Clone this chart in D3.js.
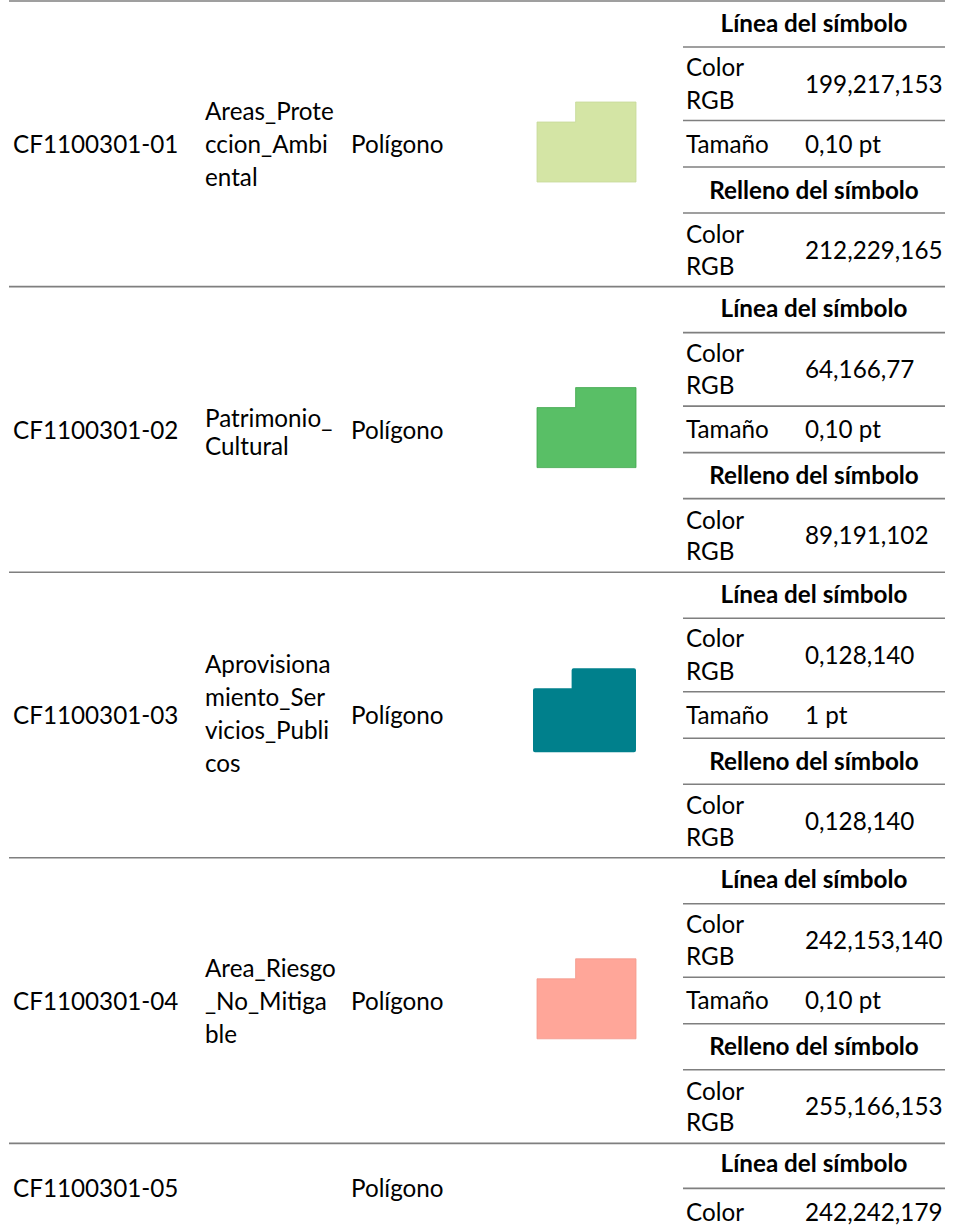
<!DOCTYPE html>
<html>
<head>
<meta charset="utf-8">
<script src="https://cdn.jsdelivr.net/npm/d3@7"></script>
<style>
  html, body { margin: 0; padding: 0; background: #fff; }
  svg { display: block; }
</style>
</head>
<body>
<div id="chart"></div>
<script>
// ---- data ----
const codes = ["CF1100301-01", "CF1100301-02", "CF1100301-03", "CF1100301-04", "CF1100301-05"];
const names = [
  ["Areas_Prote", "ccion_Ambi", "ental"],
  ["Patrimonio_", "Cultural"],
  ["Aprovisiona", "miento_Ser", "vicios_Publi", "cos"],
  ["Area_Riesgo", "_No_Mitiga", "ble"],
  []
];
const geometries = ["Polígono", "Polígono", "Polígono", "Polígono", "Polígono"];
const lineRGB = [[199, 217, 153], [64, 166, 77], [0, 128, 140], [242, 153, 140], [242, 242, 179]];
const lineSize = ["0,10 pt", "0,10 pt", "1 pt", "0,10 pt", null];
const fillRGB = [[212, 229, 165], [89, 191, 102], [0, 128, 140], [255, 166, 153], null];
const sizePt = [0.10, 0.10, 1, 0.10, null];
const headers = ["Línea del símbolo", "Relleno del símbolo"];
const colorLabel = ["Color", "RGB"];
const sizeLabel = "Tamaño";

// ---- layout ----
const W = 954, H = 1226;
const svg = d3.select("#chart").append("svg").attr("width", W).attr("height", H);
const fam = "Lato, 'Open Sans', sans-serif";

// calibrate font size against widths measured in the reference
const calib = [[codes[0], 154, false], [geometries[0], 92, false], [names[0][0], 132, false],
               ["199,217,153", 134, false], [sizeLabel, 87, false], [headers[0], 192, true]];
const ratios = calib.map(([s, target, bold]) => {
  const p = svg.append("text").style("font-family", fam).style("font-size", "100px")
    .style("font-weight", bold ? "bold" : "normal").text(s);
  const r = target / p.node().getComputedTextLength();
  p.remove();
  return r;
});
const fs = 100 * d3.mean(ratios);

const rowY = d3.scaleLinear().domain([0, 1]).range([1, 286.6]); // section index -> top y
const lineCol = "#7f7f7f";
const X = { code: 13, name: 205, geom: 351, sub0: 683, sub1: 945, lab: 686, val: 805, mid: 814, left: 9 };
const fmt = c => c.join(",");

// symbol unit shape
const sx = d3.scaleLinear().domain([0, 1]).range([537, 636]);
const sy = d3.scaleLinear().domain([0, 1]).range([101, 181]);
const shape = [[0, 0.25], [0.39, 0.25], [0.39, 0], [1, 0], [1, 1], [0, 1]];
const lineGen = d3.line().x(d => sx(d[0])).y(d => sy(d[1])).curve(d3.curveLinearClosed);

const g = svg.append("g").style("font-family", fam).style("font-size", fs + "px").attr("fill", "#000");

function text(parent, x, y, s, opts = {}) {
  const t = parent.append("text").attr("x", x).attr("y", y).text(s);
  if (opts.bold) t.style("font-weight", "bold");
  if (opts.anchor) t.attr("text-anchor", opts.anchor);
  return t;
}
function hline(parent, x0, x1, y) {
  parent.append("line").attr("x1", x0).attr("x2", x1).attr("y1", y).attr("y2", y)
    .attr("stroke", lineCol).attr("stroke-width", 1.6);
}

codes.forEach((code, i) => {
  const top = rowY(i);
  const sec = g.append("g").attr("transform", `translate(0,${top})`);
  hline(sec, X.left, X.sub1, 0);
  const full = fillRGB[i] !== null;
  if (full) {
    text(sec, X.code, 152, code);
    const n = names[i].length;
    const gap = n === 2 ? 28 : 33;
    const c = n === 2 ? 154 : (n === 4 ? 150.5 : 152);
    names[i].forEach((s, k) => text(sec, X.name, c + (k - (n - 1) / 2) * gap, s));
    text(sec, X.geom, 152, geometries[i]);

    // symbol
    const thick = sizePt[i] >= 1;
    sec.append("path").attr("d", lineGen(shape))
      .attr("fill", d3.rgb(...fillRGB[i]))
      .attr("stroke", d3.rgb(...lineRGB[i]))
      .attr("stroke-width", thick ? 4 : 0.8)
      .attr("stroke-linejoin", thick ? "round" : "miter")
      .attr("transform", thick ? "translate(-2,-3)" : null);

    // sub-table
    text(sec, X.mid, 30.5, headers[0], { bold: true, anchor: "middle" });
    hline(sec, X.sub0, X.sub1, 46);
    text(sec, X.lab, 75, colorLabel[0]);
    text(sec, X.lab, 107.5, colorLabel[1]);
    text(sec, X.val, 91.5, fmt(lineRGB[i]));
    hline(sec, X.sub0, X.sub1, 119.5);
    text(sec, X.lab, 151.5, sizeLabel);
    text(sec, X.val, 151.5, lineSize[i]);
    hline(sec, X.sub0, X.sub1, 166);
    text(sec, X.mid, 197.5, headers[1], { bold: true, anchor: "middle" });
    hline(sec, X.sub0, X.sub1, 212);
    text(sec, X.lab, 242, colorLabel[0]);
    text(sec, X.lab, 273.5, colorLabel[1]);
    text(sec, X.val, 257.5, fmt(fillRGB[i]));
  } else {
    // truncated last row (page break)
    text(sec, X.code, 54, code);
    text(sec, X.geom, 54, geometries[i]);
    text(sec, X.mid, 29, headers[0], { bold: true, anchor: "middle" });
    hline(sec, X.sub0, X.sub1, 45);
    text(sec, X.lab, 78, colorLabel[0]);
    text(sec, X.val, 78, fmt(lineRGB[i]));
  }
});
</script>
</body>
</html>
